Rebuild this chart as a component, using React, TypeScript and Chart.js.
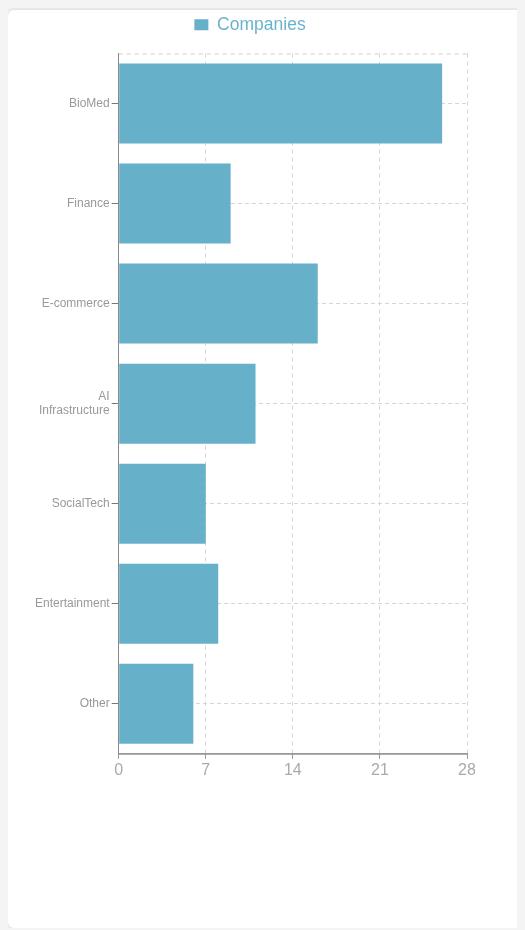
import React, { useEffect, useRef } from "react";
import { Chart, registerables } from "chart.js";

Chart.register(...registerables);

const categories: (string | string[])[] = [
  "BioMed",
  "Finance",
  "E-commerce",
  ["AI", "Infrastructure"],
  "SocialTech",
  "Entertainment",
  "Other",
];
const companies = [26, 9, 16, 11, 7, 8, 6];
const seriesLabel = "Companies";
const xMax = 28;
const xStep = 7;

const legendGap = {
  id: "legendGap",
  beforeLayout(chart: any) {
    const lg = chart.legend;
    if (lg && !lg.__gapPatched) {
      const orig = lg.fit;
      lg.fit = function () {
        orig.call(this);
        this.height += 10;
      };
      lg.__gapPatched = true;
    }
  },
};

const frameLines = {
  id: "frameLines",
  beforeDatasetsDraw(chart: any) {
    const { ctx, chartArea } = chart;
    ctx.save();
    ctx.strokeStyle = "#d0d0d0";
    ctx.lineWidth = 1;
    ctx.setLineDash([4, 4]);
    ctx.beginPath();
    ctx.moveTo(chartArea.left, chartArea.top + 0.5);
    ctx.lineTo(chartArea.right, chartArea.top + 0.5);
    ctx.stroke();
    ctx.restore();
  },
  afterDraw(chart: any) {
    const { ctx, chartArea } = chart;
    ctx.save();
    ctx.strokeStyle = "#999999";
    ctx.lineWidth = 1;
    ctx.setLineDash([]);
    ctx.beginPath();
    ctx.moveTo(chartArea.left, chartArea.bottom + 0.5);
    ctx.lineTo(chartArea.right, chartArea.bottom + 0.5);
    ctx.stroke();
    ctx.restore();
  },
};

export default function App() {
  const ref = useRef<HTMLCanvasElement>(null);
  useEffect(() => {
    document.body.style.background = "#f4f4f4";
    document.documentElement.style.overflow = "hidden";
    document.body.style.overflow = "hidden";
    const chart = new Chart(ref.current!, {
      type: "bar",
      data: {
        labels: categories,
        datasets: [
          {
            label: seriesLabel,
            data: companies,
            backgroundColor: "#67b0ca",
            borderWidth: 0,
            barPercentage: 0.8,
            categoryPercentage: 1,
          },
        ],
      },
      plugins: [legendGap, frameLines],
      options: {
        indexAxis: "y",
        animation: false,
        responsive: true,
        maintainAspectRatio: false,
        layout: { padding: { left: 25, right: 55, top: 0, bottom: 0 } },
        plugins: {
          legend: {
            display: true,
            position: "top",
            labels: {
              boxWidth: 14,
              boxHeight: 11,
              color: "#6ab3cc",
              font: { family: "Liberation Sans", size: 17.5 },
              padding: 22,
            },
          },
          tooltip: { enabled: false },
        },
        scales: {
          x: {
            min: 0,
            max: xMax,
            ticks: {
              stepSize: xStep,
              color: "#aaaaaa",
              font: { family: "Liberation Sans", size: 16 },
              padding: 2,
            },
            grid: {
              color: "#d6d6d6",
              tickColor: "#999999",
              tickLength: 5,
              tickBorderDash: [],
            },
            border: { color: "#999999", dash: [4, 4] },
          },
          y: {
            ticks: {
              color: "#999999",
              font: { family: "Liberation Sans", size: 12 },
              padding: 2,
            },
            grid: {
              offset: false,
              color: "#d6d6d6",
              tickColor: "#777777",
              tickLength: 7,
              tickBorderDash: [],
            },
            border: { color: "#888888", dash: [4, 3] },
          },
        },
      } as any,
    });
    return () => chart.destroy();
  }, []);
  return (
    <div
      style={{
        marginTop: 2,
        width: 514,
        height: 918,
        background: "#ffffff",
        borderRadius: 6,
        boxShadow: "0 0 6px rgba(0,0,0,0.15)",
        position: "relative",
      }}
    >
      <div style={{ position: "absolute", left: 0, top: -16, width: 514, height: 788 }}>
        <canvas ref={ref} />
      </div>
    </div>
  );
}
